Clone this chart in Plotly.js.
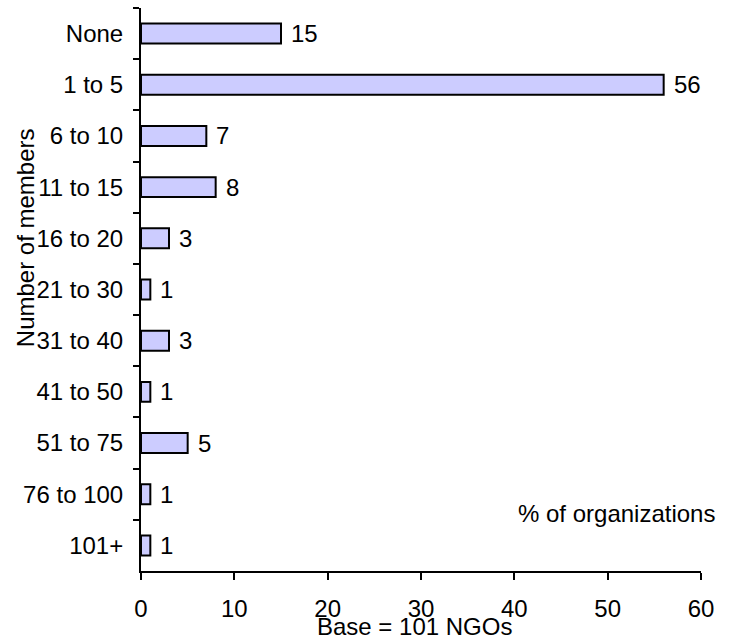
<!DOCTYPE html>
<html>
<head>
<meta charset="utf-8">
<script src="https://cdn.plot.ly/plotly-3.0.1.min.js"></script>
<style>html,body{margin:0;padding:0;background:#fff;}#chart{width:733px;height:636px;}</style>
</head>
<body>
<div id="chart"></div>
<script>
var categories = ["None", "1 to 5", "6 to 10", "11 to 15", "16 to 20", "21 to 30", "31 to 40", "41 to 50", "51 to 75", "76 to 100", "101+"];
var values = [15, 56, 7, 8, 3, 1, 3, 1, 5, 1, 1];
var xTicks = [0, 10, 20, 30, 40, 50, 60];
var yTitle = "Number of members";
var xNote = "% of organizations";
var baseNote = "Base = 101 NGOs";

var FONT = "Liberation Sans, Arial, sans-serif";

var trace = {
  type: "bar",
  orientation: "h",
  x: values,
  y: categories,
  marker: { color: "#ccccff", line: { color: "#000000", width: 2 } },
  hoverinfo: "none"
};

var valueLabels = values.map(function (v, i) {
  return {
    x: v, y: categories[i], xref: "x", yref: "y",
    text: String(v), showarrow: false,
    xanchor: "left", yanchor: "middle", xshift: 8,
    font: { family: FONT, size: 24, color: "#000" }
  };
});

var layout = {
  width: 733, height: 636,
  margin: { l: 141, r: 32, t: 8, b: 65 },
  paper_bgcolor: "#ffffff",
  plot_bgcolor: "#ffffff",
  showlegend: false,
  bargap: 0.61,
  font: { family: FONT, size: 24, color: "#000" },
  xaxis: {
    range: [0, 60],
    tickvals: xTicks,
    ticktext: xTicks.map(String),
    showgrid: false, zeroline: false,
    showline: true, linecolor: "#000", linewidth: 2,
    ticks: "outside", ticklen: 7, tickwidth: 2, tickcolor: "#000",
    ticklabelstandoff: 8,
    tickfont: { family: FONT, size: 24, color: "#000" },
    fixedrange: true
  },
  yaxis: {
    type: "category",
    categoryorder: "array",
    categoryarray: categories,
    range: [categories.length - 0.5, -0.5],
    showgrid: false, zeroline: false,
    showline: true, linecolor: "#000", linewidth: 2,
    ticks: "outside", ticklen: 6, tickwidth: 2, tickcolor: "#000",
    tickson: "boundaries",
    ticklabelstandoff: 11,
    tickfont: { family: FONT, size: 24, color: "#000" },
    fixedrange: true
  },
  annotations: valueLabels.concat([
    {
      xref: "paper", yref: "paper", x: -0.205, y: 0.5915,
      text: yTitle, textangle: -90, showarrow: false,
      xanchor: "center", yanchor: "middle",
      font: { family: FONT, size: 24, color: "#000" }
    },
    {
      xref: "paper", yref: "paper", x: 1.0286, y: 0.103,
      text: xNote, showarrow: false,
      xanchor: "right", yanchor: "middle",
      font: { family: FONT, size: 24, color: "#000" }
    },
    {
      xref: "paper", yref: "paper", x: 0.4875, y: -0.0977,
      text: baseNote, showarrow: false,
      xanchor: "center", yanchor: "middle",
      font: { family: FONT, size: 24, color: "#000" }
    }
  ])
};

Plotly.newPlot("chart", [trace], layout, { staticPlot: true, displayModeBar: false });
</script>
</body>
</html>
